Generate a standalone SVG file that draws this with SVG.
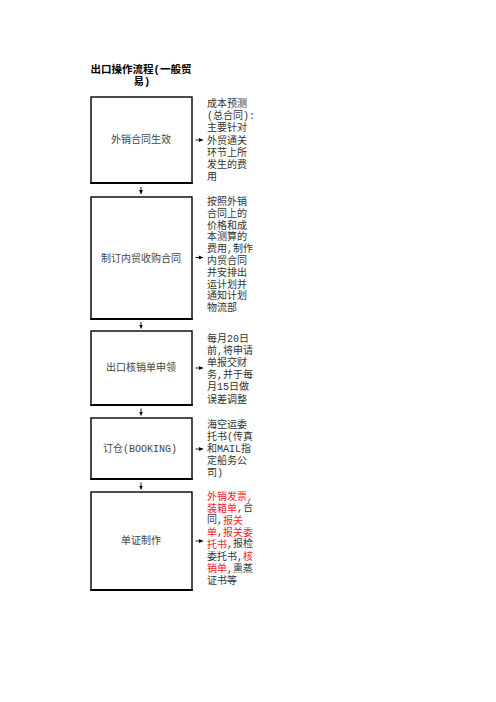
<svg xmlns="http://www.w3.org/2000/svg" width="496" height="702" viewBox="0 0 496 702">
<defs>
<style>
text{font-family:"Liberation Mono","Noto Sans CJK SC",monospace;font-size:10px;fill:#333;dominant-baseline:central}
.title{font-weight:bold;font-size:10.5px;text-anchor:middle;fill:#000}
.lbl{text-anchor:middle;fill:#444}
.r{fill:#ff2020}
.box{fill:#fff;stroke:#000;stroke-width:1.4}
.bot{stroke:#000;stroke-width:2.2}
.arr{stroke:#000;stroke-width:0.9;fill:none}
</style>
<marker id="ah" markerUnits="userSpaceOnUse" markerWidth="6" markerHeight="6" refX="4" refY="3" orient="auto">
<path d="M0,1 L4,3 L0,5 Z" fill="#000"/>
</marker>
</defs>
<rect width="496" height="702" fill="#fff"/>
<g id="title">
<text class="title" x="141" y="69.5">出口操作流程(一般贸</text>
<text class="title" x="142" y="82">易)</text>
</g>
<g id="n1">
<rect class="box" x="91" y="97" width="101" height="86"/>
<line class="bot" x1="90.3" y1="183" x2="192.7" y2="183"/>
<text class="lbl" x="141" y="140">外销合同生效</text>
</g>
<g id="n1note">
<text x="207" y="104.5">成本预测</text>
<text x="207" y="116.7">(总合同):</text>
<text x="207" y="128.9">主要针对</text>
<text x="207" y="141.1">外贸通关</text>
<text x="207" y="153.3">环节上所</text>
<text x="207" y="165.5">发生的费</text>
<text x="207" y="177.7">用</text>
</g>
<g id="n2">
<rect class="box" x="91" y="197" width="101" height="122"/>
<line class="bot" x1="90.3" y1="319" x2="192.7" y2="319"/>
<text class="lbl" x="141" y="259">制订内贸收购合同</text>
</g>
<g id="n2note">
<text x="207" y="202.5">按照外销</text>
<text x="207" y="214.3">合同上的</text>
<text x="207" y="226.1">价格和成</text>
<text x="207" y="237.9">本测算的</text>
<text x="207" y="249.7">费用,制作</text>
<text x="207" y="261.5">内贸合同</text>
<text x="207" y="273.3">并安排出</text>
<text x="207" y="285.1">运计划并</text>
<text x="207" y="296.9">通知计划</text>
<text x="207" y="308.7">物流部</text>
</g>
<g id="n3">
<rect class="box" x="91" y="331" width="101" height="74"/>
<line class="bot" x1="90.3" y1="405" x2="192.7" y2="405"/>
<text class="lbl" x="141" y="368">出口核销单申领</text>
</g>
<g id="n3note">
<text x="207" y="339">每月20日</text>
<text x="207" y="351.2">前,将申请</text>
<text x="207" y="363.4">单报交财</text>
<text x="207" y="375.6">务,并于每</text>
<text x="207" y="387.8">月15日做</text>
<text x="207" y="400">误差调整</text>
</g>
<g id="n4">
<rect class="box" x="91" y="418" width="101" height="61"/>
<line class="bot" x1="90.3" y1="479" x2="192.7" y2="479"/>
<text class="lbl" x="140" y="449">订仓(BOOKING)</text>
</g>
<g id="n4note">
<text x="207" y="425">海空运委</text>
<text x="207" y="437.2">托书(传真</text>
<text x="207" y="449.4">和MAIL指</text>
<text x="207" y="461.6">定船务公</text>
<text x="207" y="473.8">司)</text>
</g>
<g id="n5">
<rect class="box" x="91" y="492" width="101" height="98"/>
<line class="bot" x1="90.3" y1="590" x2="192.7" y2="590"/>
<text class="lbl" x="141" y="541">单证制作</text>
</g>
<g id="n5note">
<text x="207" y="496.5"><tspan class="r">外销发票,</tspan></text>
<text x="207" y="508.6"><tspan class="r">装箱单</tspan>,合</text>
<text x="207" y="520.7">同,<tspan class="r">报关</tspan></text>
<text x="207" y="532.8"><tspan class="r">单</tspan>,<tspan class="r">报关委</tspan></text>
<text x="207" y="544.9"><tspan class="r">托书</tspan>,报检</text>
<text x="207" y="557">委托书,<tspan class="r">核</tspan></text>
<text x="207" y="569.1"><tspan class="r">销单</tspan>,熏蒸</text>
<text x="207" y="581.2">证书等</text>
</g>
<g id="connectors">
<line class="arr" x1="141" y1="187" x2="141" y2="194" marker-end="url(#ah)"/>
<line class="arr" x1="141" y1="322" x2="141" y2="328.5" marker-end="url(#ah)"/>
<line class="arr" x1="141" y1="408.5" x2="141" y2="415.5" marker-end="url(#ah)"/>
<line class="arr" x1="141" y1="482.5" x2="141" y2="489.5" marker-end="url(#ah)"/>
<line class="arr" x1="195.5" y1="140" x2="203" y2="140" marker-end="url(#ah)"/>
<line class="arr" x1="195.5" y1="257.5" x2="203" y2="257.5" marker-end="url(#ah)"/>
<line class="arr" x1="195.5" y1="368" x2="203" y2="368" marker-end="url(#ah)"/>
<line class="arr" x1="195.5" y1="449" x2="203" y2="449" marker-end="url(#ah)"/>
<line class="arr" x1="195.5" y1="541" x2="203" y2="541" marker-end="url(#ah)"/>
</g>
</svg>
